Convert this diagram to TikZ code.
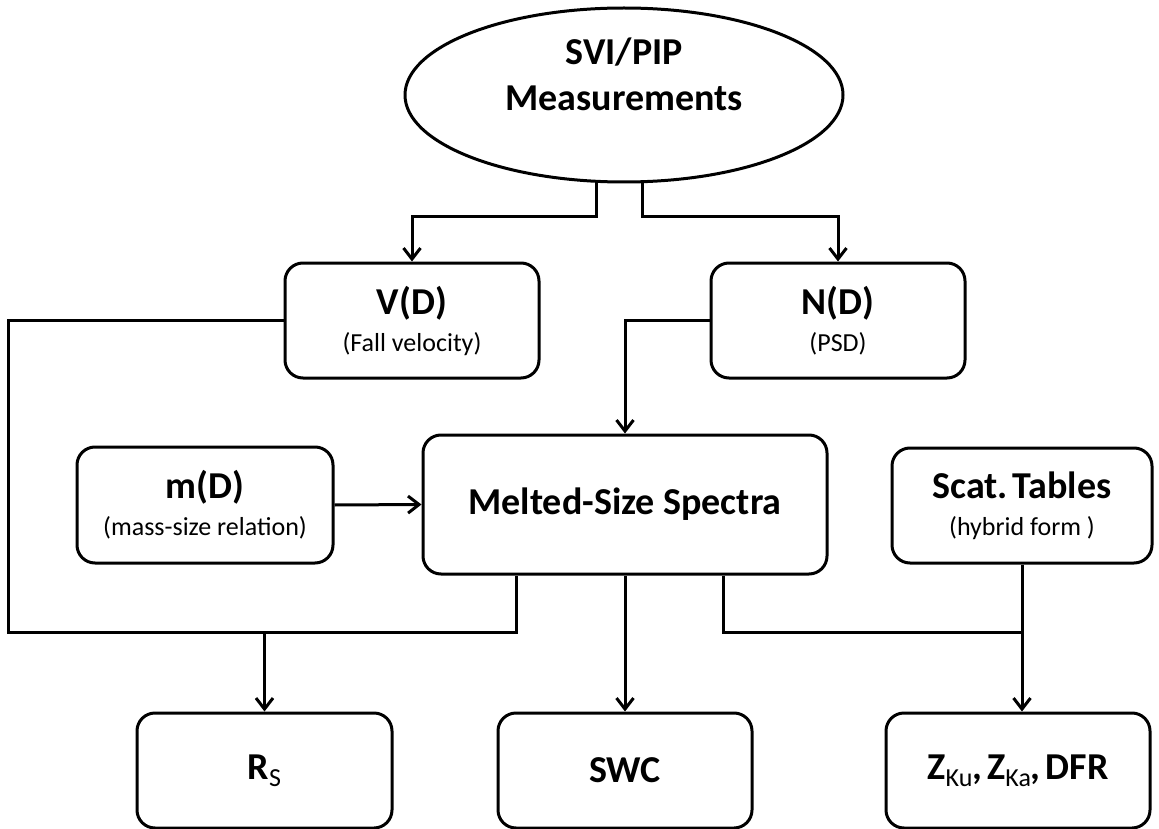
\documentclass[tikz,border=0pt]{standalone}
\usepackage{fontspec}
\setmainfont{Carlito}
\usetikzlibrary{arrows.meta,shapes.geometric}
\newcommand{\bigf}{\fontsize{38}{37}\selectfont\bfseries}
\newcommand{\subs}[1]{\raisebox{-7pt}{\fontsize{26}{26}\selectfont\mdseries #1}}
\begin{document}
\begin{tikzpicture}[x=1pt,y=-1pt,
  box/.style={draw, line width=3pt, rounded corners=18pt, align=center, inner sep=0pt,
    font=\fontsize{26}{37}\selectfont},
  wire/.style={line width=3pt},
  arr/.style={wire, -{Straight Barb[length=11pt,width=17pt]}}]
\useasboundingbox (0,0) rectangle (1159,829);
\node[ellipse, draw, line width=3pt, minimum width=438pt, minimum height=174pt, inner sep=0pt] (meas) at (624,95) {};
\node[align=center, font=\fontsize{38}{46}\selectfont\bfseries] (meastext) at (624,74) {SVI/PIP\\Measurements};
\node[box, minimum width=254pt, minimum height=115pt] (vd) at (412,320.5) {{\bigf V(D)}\\(Fall velocity)};
\node[box, minimum width=254pt, minimum height=115pt] (nd) at (838,320.5) {{\bigf N(D)}\\(PSD)};
\node[box, minimum width=404pt, minimum height=139pt] (melt) at (625,504.5) {\bigf Melted-Size Spectra};
\node[box, minimum width=256pt, minimum height=116pt] (md) at (205,505) {{\bigf m(D)}\\(mass-size relation)};
\node[box, minimum width=260pt, minimum height=115pt] (scat) at (1022,505.5) {{\bigf Scat.\hspace{5pt}Tables}\\(hybrid form )};
\node[box, minimum width=255pt, minimum height=115pt] (rs) at (264.5,770.5) {\bigf R\subs{S}};
\node[box, minimum width=254pt, minimum height=115pt] (swc) at (625,770.5) {\bigf SWC};
\node[box, minimum width=264pt, minimum height=115pt] (z) at (1018,770.5) {\bigf Z\subs{Ku},\hspace{5pt}Z\subs{Ka},\hspace{5pt}DFR};
\coordinate (jl) at (412,217);
\coordinate (jr) at (838,217);
\coordinate (lc) at (8,632);
\coordinate (bl) at (516,632);
\coordinate (br) at (723,632);
\coordinate (zj) at (1022,632);
\draw[arr] ([xshift=-28pt]meas.south) |- (jl) -- (vd.north);
\draw[arr] ([xshift=18pt]meas.south) |- (jr) -- (nd.north);
\draw[arr] (nd.west) -| (melt.north);
\draw[arr] (md.east) -- (melt.west);
\draw[wire] (vd.west) -| (lc) -- (bl) -- (bl |- melt.south);
\draw[arr] (rs.north |- bl) -- (rs.north);
\draw[arr] (melt.south) -- (swc.north);
\draw[wire] (br |- melt.south) -- (br) -- (zj);
\draw[arr] (scat.south) -- (z.north -| scat.south);
\end{tikzpicture}
\end{document}
